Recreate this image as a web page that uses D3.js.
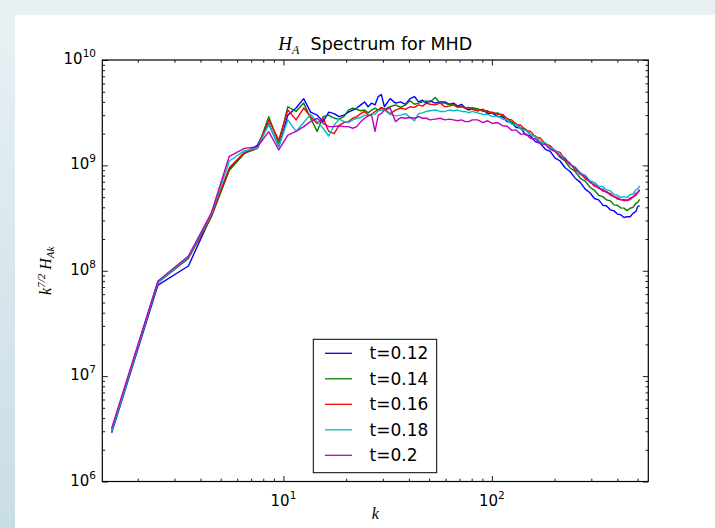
<!DOCTYPE html>
<html>
<head>
<meta charset="utf-8">
<script src="https://cdn.jsdelivr.net/npm/d3@7"></script>
<style>
html,body{margin:0;padding:0;background:#fff;}
svg{display:block;}
</style>
</head>
<body>
<svg id="chart" width="715" height="528"></svg>
<script>
// ---------------- data ----------------
const kValues = [1.5,2.5,3.5,4.5,5.5,6.5,7.5,8.5,9.5,10.5,
  11.5,12.5,13.5,14.5,15.5,16.5,17.5,18.5,19.5,20.5,
  21.5,22.5,23.5,24.5,25.5,26.5,27.5,28.5,29.5,30.5,
  32.5,34.5,36.5,38.5,40.5,42.5,44.5,46.5,48.5,50.5,
  53.5,56.5,59.5,62.5,65.5,68.5,71.5,74.5,77.5,80.5,
  85.5,90.5,95.5,100.5,106.5,112.5,118.5,124.5,130.5,137.5,
  145.5,153.5,161.5,170.5,180.5,190.5,200.5,212.5,224.5,236.5,
  250.5,265.5,280.5,295.5,310.5,325.5,340.5,355.5,370.5,385.5,
  400.5,415.5,430.5,445.5,460.5,475.5,490.5,500.5,511.5];

const series_t012 = [2.9e6,7.3e7,1.11e8,3.3e8,9.2e8,1.3e9,1.55e9,2.5e9,1.5e9,3.0e9,
  3.5e9,4.3e9,3.2e9,3.0e9,2.6e9,3.2e9,3.1e9,2.9e9,3.0e9,3.2e9,
  3.35e9,3.5e9,3.75e9,4.0e9,3.6e9,3.9e9,3.75e9,4.5e9,4.7e9,3.6e9,
  4.3e9,3.9e9,4.0e9,3.8e9,4.3e9,4.5e9,4.0e9,4.15e9,3.9e9,4.1e9,
  3.9e9,4.0e9,4.0e9,3.8e9,3.9e9,3.65e9,3.8e9,3.5e9,3.35e9,3.5e9,
  3.3e9,3.4e9,3.1e9,3.15e9,2.9e9,2.9e9,2.6e9,2.55e9,2.3e9,2.25e9,
  1.95e9,1.9e9,1.68e9,1.62e9,1.42e9,1.36e9,1.18e9,1.1e9,9.5e8,8.8e8,
  7.6e8,6.9e8,5.95e8,5.5e8,4.85e8,4.7e8,4.2e8,4.12e8,3.78e8,3.7e8,
  3.45e8,3.4e8,3.2e8,3.26e8,3.25e8,3.5e8,3.65e8,4.05e8,4.15e8];

const series_t014 = [3.0e6,7.7e7,1.31e8,3.2e8,9.0e8,1.3e9,1.45e9,2.9e9,1.62e9,3.6e9,
  3.25e9,3.9e9,2.8e9,2.1e9,2.9e9,3.0e9,2.8e9,2.75e9,2.9e9,3.35e9,
  3.5e9,3.4e9,3.3e9,3.35e9,3.15e9,3.35e9,3.5e9,3.35e9,3.55e9,3.4e9,
  3.6e9,3.75e9,3.55e9,3.75e9,4.1e9,3.8e9,3.9e9,4.0e9,4.1e9,4.0e9,
  4.4e9,3.9e9,3.9e9,3.75e9,3.8e9,3.6e9,3.65e9,3.55e9,3.5e9,3.5e9,
  3.45e9,3.25e9,3.3e9,3.1e9,3.15e9,2.95e9,2.8e9,2.55e9,2.5e9,2.25e9,
  2.2e9,1.95e9,1.9e9,1.68e9,1.62e9,1.45e9,1.38e9,1.19e9,1.1e9,9.5e8,
  8.8e8,7.55e8,7.1e8,6.2e8,5.8e8,5.2e8,5.05e8,4.7e8,4.6e8,4.22e8,
  4.18e8,3.95e8,3.93e8,3.72e8,3.92e8,4.0e8,4.35e8,4.45e8,4.75e8];

const series_t016 = [3.1e6,7.9e7,1.33e8,3.3e8,9.5e8,1.33e9,1.45e9,2.7e9,1.74e9,3.35e9,
  2.7e9,3.5e9,2.9e9,2.5e9,2.8e9,2.1e9,2.0e9,2.4e9,2.55e9,2.6e9,
  2.8e9,2.9e9,3.1e9,3.25e9,3.0e9,3.05e9,3.25e9,3.35e9,3.5e9,3.4e9,
  3.1e9,3.35e9,3.5e9,3.4e9,3.6e9,3.55e9,3.75e9,3.65e9,3.9e9,3.8e9,
  3.75e9,3.9e9,3.6e9,3.65e9,3.75e9,3.55e9,3.6e9,3.5e9,3.55e9,3.4e9,
  3.3e9,3.4e9,3.2e9,3.2e9,3.05e9,3.05e9,2.75e9,2.7e9,2.45e9,2.4e9,
  2.15e9,2.1e9,1.86e9,1.82e9,1.6e9,1.54e9,1.37e9,1.33e9,1.12e9,1.06e9,
  9.0e8,8.55e8,7.45e8,7.05e8,6.35e8,6.2e8,5.7e8,5.65e8,5.2e8,5.08e8,
  4.78e8,4.75e8,4.62e8,4.7e8,4.72e8,5.05e8,5.18e8,5.58e8,5.75e8];

const series_t018 = [3.0e6,7.8e7,1.35e8,3.4e8,1.1e9,1.38e9,1.45e9,2.45e9,1.52e9,2.7e9,
  2.1e9,2.55e9,3.05e9,2.6e9,2.25e9,1.9e9,2.4e9,2.75e9,2.6e9,2.55e9,
  2.7e9,2.8e9,2.85e9,3.0e9,2.95e9,3.1e9,3.05e9,3.3e9,3.35e9,3.35e9,
  3.05e9,2.95e9,3.0e9,3.1e9,2.85e9,2.65e9,3.1e9,3.15e9,3.25e9,3.3e9,
  3.35e9,3.25e9,3.25e9,3.35e9,3.3e9,3.35e9,3.25e9,3.25e9,3.15e9,3.25e9,
  3.15e9,3.05e9,3.05e9,2.9e9,2.95e9,2.75e9,2.7e9,2.45e9,2.45e9,2.2e9,
  2.15e9,1.93e9,1.89e9,1.69e9,1.64e9,1.47e9,1.41e9,1.25e9,1.18e9,1.03e9,
  9.7e8,8.5e8,8.05e8,7.15e8,6.9e8,6.35e8,6.3e8,5.85e8,5.72e8,5.28e8,
  5.2e8,4.98e8,5.05e8,4.95e8,5.28e8,5.35e8,5.85e8,5.95e8,6.4e8];

const series_t020 = [3.2e6,8.0e7,1.38e8,3.5e8,1.22e9,1.45e9,1.5e9,2.09e9,1.4e9,1.94e9,
  2.1e9,2.33e9,2.6e9,2.8e9,2.5e9,2.33e9,2.33e9,2.38e9,2.33e9,2.33e9,
  2.25e9,2.33e9,2.6e9,2.8e9,2.95e9,3.0e9,2.1e9,3.0e9,3.1e9,3.35e9,
  3.5e9,2.6e9,2.85e9,2.8e9,2.85e9,2.8e9,2.9e9,2.8e9,2.8e9,2.7e9,
  2.75e9,2.8e9,2.7e9,2.75e9,2.7e9,2.65e9,2.7e9,2.6e9,2.6e9,2.7e9,
  2.7e9,2.55e9,2.65e9,2.5e9,2.55e9,2.38e9,2.35e9,2.15e9,2.17e9,1.98e9,
  1.99e9,1.8e9,1.79e9,1.61e9,1.58e9,1.42e9,1.36e9,1.22e9,1.16e9,1.02e9,
  9.5e8,8.2e8,7.85e8,6.85e8,6.6e8,6.05e8,5.95e8,5.5e8,5.42e8,5.02e8,
  4.95e8,4.7e8,4.76e8,4.62e8,4.9e8,4.98e8,5.42e8,5.52e8,5.9e8];

const seriesLabels = ["t=0.12","t=0.14","t=0.16","t=0.18","t=0.2"];
const seriesColors = ["#0000ff","#008000","#ff0000","#00bfbf","#bf00bf"];
const seriesData = [series_t012, series_t014, series_t016, series_t018, series_t020];

const xMajorTicks = [10, 100];
const xMajorExp = ["1", "2"];
const xMinorTicks = [2,3,4,5,6,7,8,9,20,30,40,50,60,70,80,90,200,300,400,500];
const yMajorTicks = [1e6, 1e7, 1e8, 1e9, 1e10];
const yMajorExp = ["6","7","8","9","10"];
const yMinorTicks = [];
[1e6,1e7,1e8,1e9].forEach(b => { for (let m = 2; m <= 9; m++) yMinorTicks.push(b*m); });

// ---------------- layout ----------------
const svg = d3.select("#chart");
const L = 102.3, R = 648.3, T = 60, B = 481.5;

const defs = svg.append("defs");
const g1 = defs.append("linearGradient").attr("id","sideGrad").attr("x1",0).attr("y1",0).attr("x2",0).attr("y2",1);
g1.append("stop").attr("offset","0%").attr("stop-color","#e9f1f4");
g1.append("stop").attr("offset","100%").attr("stop-color","#c9dde5");

svg.append("rect").attr("x",0).attr("y",0).attr("width",715).attr("height",528).attr("fill","url(#sideGrad)");
svg.append("rect").attr("x",0).attr("y",0).attr("width",715).attr("height",15).attr("fill","#e8f0f3");
svg.append("rect").attr("x",15).attr("y",15).attr("width",700).attr("height",513).attr("fill","#ffffff");

const x = d3.scaleLog().domain([1.352, 563]).range([L, R]);
const y = d3.scaleLog().domain([1e6, 1e10]).range([B, T]);

// ---------------- lines ----------------
const line = d3.line().x(d => x(d[0])).y(d => y(d[1]));
const plot = svg.append("g");
seriesData.forEach((vals, i) => {
  const pts = kValues.map((k, j) => [k, vals[j]]);
  plot.append("path")
    .attr("d", line(pts))
    .attr("fill","none")
    .attr("stroke", seriesColors[i])
    .attr("stroke-width", 1.4)
    .attr("stroke-linejoin","round");
});

// ---------------- axes ----------------
function axisTicks(axisFn, scale, major, minor, transform) {
  const gMaj = svg.append("g").attr("transform", transform)
    .call(axisFn(scale).tickValues(major).tickSize(-5.5).tickFormat(() => ""));
  const gMin = svg.append("g").attr("transform", transform)
    .call(axisFn(scale).tickValues(minor).tickSize(-2.8).tickFormat(() => ""));
  [gMaj, gMin].forEach(g => {
    g.select(".domain").remove();
    g.selectAll(".tick line").attr("stroke","#000").attr("stroke-width",0.9);
  });
}
axisTicks(d3.axisBottom, x, xMajorTicks, xMinorTicks, `translate(0,${B})`);
axisTicks(d3.axisTop, x, xMajorTicks, xMinorTicks, `translate(0,${T})`);
axisTicks(d3.axisLeft, y, yMajorTicks, yMinorTicks, `translate(${L},0)`);
axisTicks(d3.axisRight, y, yMajorTicks, yMinorTicks, `translate(${R},0)`);

svg.append("rect").attr("x",L).attr("y",T).attr("width",R-L).attr("height",B-T)
  .attr("fill","none").attr("stroke","#000").attr("stroke-width",1.2);

const tickFont = "DejaVu Sans, sans-serif";
// x tick labels
xMajorTicks.forEach((v, i) => {
  const t = svg.append("text").attr("x", x(v)).attr("y", 506)
    .attr("text-anchor","middle").attr("font-family", tickFont).attr("font-size", 15).attr("fill","#000");
  t.append("tspan").text("10");
  t.append("tspan").attr("dy",-7).attr("font-size",10.5).text(xMajorExp[i]);
});
// y tick labels
yMajorTicks.forEach((v, i) => {
  const t = svg.append("text").attr("x", 96).attr("y", y(v) + 4)
    .attr("text-anchor","end").attr("font-family", tickFont).attr("font-size", 15).attr("fill","#000");
  t.append("tspan").text("10");
  t.append("tspan").attr("dy",-7).attr("font-size",10.5).text(yMajorExp[i]);
});

// ---------------- title & labels ----------------
const mathFont = "Liberation Serif, DejaVu Serif, serif";
const title = svg.append("text").attr("x", (L+R)/2).attr("y", 50)
  .attr("text-anchor","middle").attr("fill","#000");
title.append("tspan").attr("font-family", mathFont).attr("font-style","italic").attr("font-size",19).text("H");
title.append("tspan").attr("font-family", mathFont).attr("font-style","italic").attr("font-size",12).attr("dy",4).text("A");
title.append("tspan").attr("font-family", tickFont).attr("font-size",17.5).attr("dy",-4).text("\u00a0\u00a0Spectrum for MHD");

svg.append("text").attr("x", (L+R)/2).attr("y", 519)
  .attr("text-anchor","middle").attr("font-family", mathFont).attr("font-style","italic").attr("font-size",16).text("k");

const yl = svg.append("text").attr("transform", `translate(51,${(T+B)/2}) rotate(-90)`)
  .attr("text-anchor","middle").attr("fill","#000").attr("font-family", mathFont).attr("font-style","italic");
yl.append("tspan").attr("font-size",16).text("k");
yl.append("tspan").attr("font-size",11).attr("dy",-6).text("7/2");
yl.append("tspan").attr("font-size",16).attr("dy",6).text("\u00a0H");
yl.append("tspan").attr("font-size",11).attr("dy",3).text("Ak");

// ---------------- legend ----------------
const lg = svg.append("g");
lg.append("rect").attr("x",313.3).attr("y",339.3).attr("width",123.4).attr("height",133.4)
  .attr("fill","#fff").attr("stroke","#000").attr("stroke-width",1);
seriesLabels.forEach((lab, i) => {
  const cy = 353.3 + i*25.5;
  lg.append("line").attr("x1",325).attr("x2",352).attr("y1",cy).attr("y2",cy)
    .attr("stroke", seriesColors[i]).attr("stroke-width",1.3);
  lg.append("text").attr("x",369.5).attr("y",cy+6).attr("font-family",tickFont).attr("font-size",17).attr("fill","#000").text(lab);
});
</script>
</body>
</html>
